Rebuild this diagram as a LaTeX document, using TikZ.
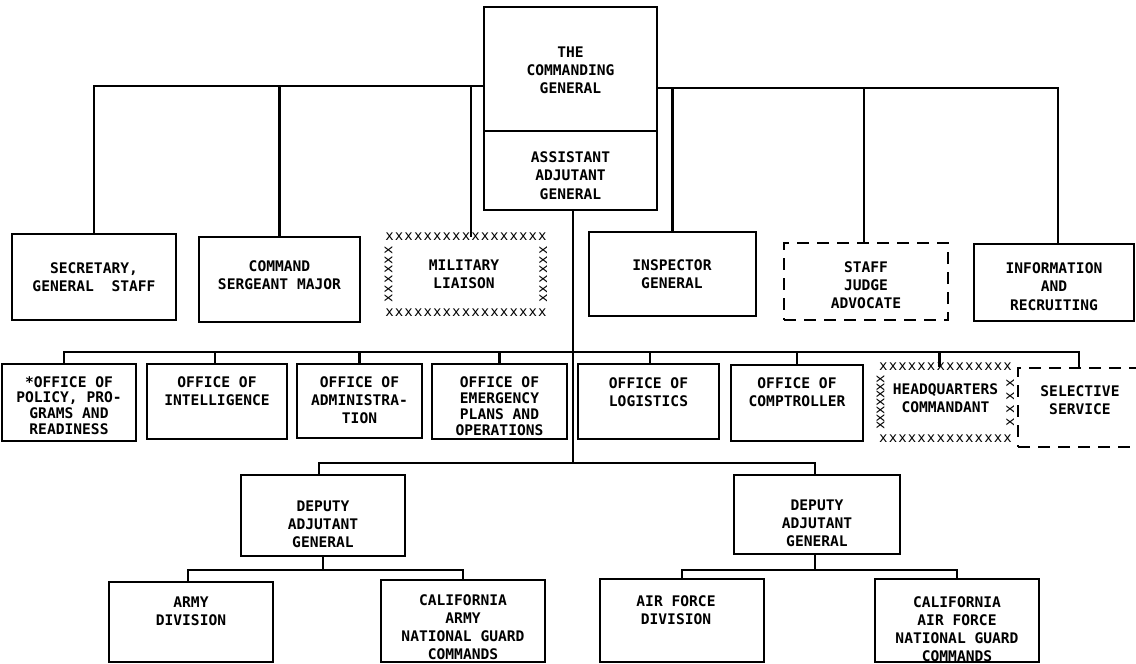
\documentclass[tikz,border=0pt]{standalone}
\usepackage{fontspec}
\setmonofont{DejaVu Sans Mono}
\usetikzlibrary{fit}
\tikzset{
  box/.style={draw, line width=1.2pt, inner sep=0pt},
  dbox/.style={box, dash pattern=on 6pt off 4pt},
  xbox/.style={inner sep=0pt},
  lbl/.style={font=\ttfamily\bfseries\fontsize{7.3}{9.1}\selectfont, align=center, inner sep=0pt},
  lblo/.style={font=\ttfamily\bfseries\fontsize{7.3}{7.9}\selectfont, align=center, inner sep=0pt},
  lblb/.style={font=\ttfamily\bfseries\fontsize{7.3}{9.0}\selectfont, align=center, inner sep=0pt},
  xrow/.style={font=\ttfamily\fontsize{7}{8}\selectfont\addfontfeature{LetterSpace=8}, inner sep=0pt},
  xside/.style={font=\ttfamily\fontsize{7}{8}\selectfont\addfontfeature{LetterSpace=8}, inner sep=0pt, rotate=90},
  xsideD/.style={font=\ttfamily\fontsize{7}{8}\selectfont\addfontfeature{LetterSpace=-5}, inner sep=0pt, rotate=90},
  xsideS/.style={font=\ttfamily\fontsize{7}{8}\selectfont\addfontfeature{LetterSpace=32}, inner sep=0pt, rotate=90},
  conn/.style={line width=1.2pt},
}
\begin{document}
\begin{tikzpicture}[x=0.5pt,y=-0.5pt]
\useasboundingbox (0,0) rectangle (1136,664);
\clip (0,0) rectangle (1136,664);

% boxes
\node[box, fit={(484,7) (657,131)}] (cg) {};
\node[box, fit={(484,131) (657,210)}] (aag) {};
\node[box, fit={(12,234) (176,320)}] (sec) {};
\node[box, fit={(199,237) (360,322)}] (csm) {};
\node[xbox, fit={(389,237) (543,312)}] (mil) {};
\node[box, fit={(589,232) (756,316)}] (insp) {};
\node[dbox, fit={(784,243) (948,320)}] (sja) {};
\node[box, fit={(974,244) (1134,321)}] (info) {};
\node[box, fit={(2,364) (136,441)}] (pol) {};
\node[box, fit={(147,364) (287,439)}] (intel) {};
\node[box, fit={(297,364) (422,438)}] (admin) {};
\node[box, fit={(432,364) (567,439)}] (emer) {};
\node[box, fit={(578,364) (719,439)}] (logi) {};
\node[box, fit={(731,365) (863,441)}] (comp) {};
\node[xbox, fit={(881,367) (1010,438)}] (hq) {};
\node[dbox, fit={(1018,368) (1140,447)}] (sel) {};
\node[box, fit={(241,475) (405,556)}] (depL) {};
\node[box, fit={(734,475) (900,554)}] (depR) {};
\node[box, fit={(109,582) (273,662)}] (army) {};
\node[box, fit={(381,580) (545,662)}] (calarmy) {};
\node[box, fit={(600,579) (764,662)}] (afd) {};
\node[box, fit={(875,579) (1039,662)}] (calair) {};

% x borders: military liaison
\node[xrow] (mil-xt) at (mil.north) {xxxxxxxxxxxxxxxxx};
\node[xrow] (mil-xb) at (mil.south) {xxxxxxxxxxxxxxxxx};
\node[xside] (mil-xl) at (mil.west) {xxxxxx};
\node[xside] (mil-xr) at (mil.east) {xxxxxx};
% x borders: headquarters commandant
\node[xrow] (hq-xt) at (hq.north) {xxxxxxxxxxxxxx};
\node[xrow] (hq-xb) at (hq.south) {xxxxxxxxxxxxxx};
\node[xsideD] (hq-xl) at (hq.west) {xxxxxxx};
\node[xsideS] (hq-xr) at (hq.east) {xxxx};

% labels
\node[lbl] (cg-t) at (570.5,70) {THE\\COMMANDING\\GENERAL};
\node[lbl] (aag-t) at (570.5,175.5) {ASSISTANT\\ADJUTANT\\GENERAL};
\node[lbl] (sec-t) at (94,277) {SECRETARY,\\GENERAL\ \ STAFF};
\node[lbl] (csm-t) at (279.5,275.5) {COMMAND\\SERGEANT MAJOR};
\node[lbl] (mil-t) at (464,274) {MILITARY\\LIAISON};
\node[lbl] (insp-t) at (672,274) {INSPECTOR\\GENERAL};
\node[lbl] (sja-t) at (866,285) {STAFF\\JUDGE\\ADVOCATE};
\node[lbl] (info-t) at (1054,286.5) {INFORMATION\\AND\\RECRUITING};
\node[lblo] (pol-t) at (69,405.5) {*OFFICE OF\\POLICY, PRO-\\GRAMS AND\\READINESS};
\node[lbl] (intel-t) at (217,391) {OFFICE OF\\INTELLIGENCE};
\node[lbl] (admin-t) at (359.5,400) {OFFICE OF\\ADMINISTRA-\\TION};
\node[lblo] (emer-t) at (499.5,406) {OFFICE OF\\EMERGENCY\\PLANS AND\\OPERATIONS};
\node[lbl] (logi-t) at (648.5,392) {OFFICE OF\\LOGISTICS};
\node[lbl] (comp-t) at (797,392.5) {OFFICE OF\\COMPTROLLER};
\node[lbl] (hq-t) at (945.5,398.5) {HEADQUARTERS\\COMMANDANT};
\node[lbl] (sel-t) at (1080,400.5) {SELECTIVE\\SERVICE};
\node[lbl] (depL-t) at (323,524) {DEPUTY\\ADJUTANT\\GENERAL};
\node[lbl] (depR-t) at (817,523.5) {DEPUTY\\ADJUTANT\\GENERAL};
\node[lbl] (army-t) at (191,611) {ARMY\\DIVISION};
\node[lblb] (calarmy-t) at (463,627.5) {CALIFORNIA\\ARMY\\NATIONAL GUARD\\COMMANDS};
\node[lbl] (afd-t) at (676,610) {AIR FORCE\\DIVISION};
\node[lblb] (calair-t) at (957,629.5) {CALIFORNIA\\AIR FORCE\\NATIONAL GUARD\\COMMANDS};

% bus levels
\coordinate (yL) at (0,86);
\coordinate (yR) at (0,88);
\coordinate (yO) at (0,352);
\coordinate (yD) at (0,463);
\coordinate (yS) at (0,570);

% connectors: top left
\draw[conn] (sec.north) |- (cg.west |- yL);
\draw[conn] (csm.north) -- (csm.north |- yL);
\draw[conn] ([xshift=2.5pt]mil.north) -- ([xshift=2.5pt]mil.north |- yL);
% top right
\draw[conn] (cg.east |- yR) -| ([xshift=2pt]info.north);
\draw[conn] (insp.north) -- (insp.north |- yR);
\draw[conn] ([xshift=-1pt]sja.north) -- ([xshift=-1pt]sja.north |- yR);
% trunk
\draw[conn] ([xshift=1.25pt]aag.south) -- ([xshift=1.25pt]aag.south |- yD);
% office bus
\draw[conn] ([xshift=-2.5pt]pol.north) |- (sel.north |- yO) -- (sel.north);
\draw[conn] ([xshift=-1pt]intel.north) -- ([xshift=-1pt]intel.north |- yO);
\draw[conn] (admin.north) -- (admin.north |- yO);
\draw[conn] (emer.north) -- (emer.north |- yO);
\draw[conn] ([xshift=0.75pt]logi.north) -- ([xshift=0.75pt]logi.north |- yO);
\draw[conn] (comp.north) -- (comp.north |- yO);
\draw[conn] ([xshift=-3pt]hq.north) -- ([xshift=-3pt]hq.north |- yO);
% deputies
\draw[conn] ([xshift=-2pt]depL.north) |- ([xshift=-1pt]depR.north |- yD) -- ([xshift=-1pt]depR.north);
\draw[conn] (depL.south) -- (depL.south |- yS);
\draw[conn] ([xshift=-1.5pt]army.north) |- (calarmy.north |- yS) -- (calarmy.north);
\draw[conn] ([xshift=-1pt]depR.south) -- ([xshift=-1pt]depR.south |- yS);
\draw[conn] (afd.north) |- (calair.north |- yS) -- (calair.north);
\end{tikzpicture}
\end{document}
